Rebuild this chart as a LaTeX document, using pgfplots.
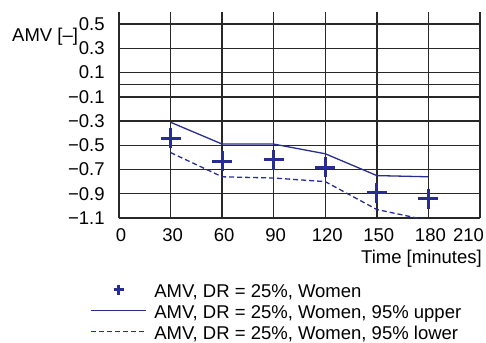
\documentclass[border=0pt]{standalone}
\usepackage{pgfplots}
\pgfplotsset{compat=1.18}
\usepackage{fontspec}
\setmainfont{Liberation Sans}
\definecolor{navy}{RGB}{40,45,145}
\definecolor{gridc}{RGB}{40,40,40}
\begin{document}
\fontsize{18.5bp}{20bp}\selectfont
\begin{tikzpicture}
\useasboundingbox (0,0) rectangle (486bp,343bp);
\begin{axis}[
  at={(119bp,125bp)}, anchor=south west,
  scale only axis, width=361bp, height=206bp,
  xmin=0, xmax=210, ymin=-1.1, ymax=0.6,
  axis line style={draw=none},
  xtick={0,30,60,90,120,150,180,210},
  ytick={-1.1,-0.9,-0.7,-0.5,-0.3,-0.1,0.1,0.3,0.5},
  yticklabels={−1.1,−0.9,−0.7,−0.5,−0.3,−0.1,0.1,0.3,0.5},
  xticklabels={0,30,60,90,120,150,180,\makebox[4bp][r]{210}},
  extra y ticks={0}, extra y tick labels={},
  extra tick style={grid=major},
  grid=major,
  major grid style={gridc, line width=1.4bp},
  major tick length=0pt,
  tick label style={font=\fontsize{18.5bp}{20bp}\selectfont},
  yticklabel style={xshift=-8bp},
  xticklabel style={yshift=-4bp, xshift=2bp},
  xlabel={Time [minutes]},
  every axis x label/.style={at={(axis description cs:1,0)}, anchor=base east, xshift=2bp, yshift=-45bp, inner sep=0pt},
  ylabel={AMV [–]},
  every axis y label/.style={at={(axis description cs:0,1)}, anchor=base west, xshift=-107bp, yshift=-30bp, inner sep=0pt},
  legend style={at={(axis description cs:0,0)}, anchor=north west, xshift=-29bp, yshift=-65bp,
    draw=none, fill=none, inner sep=0pt, outer sep=0pt, row sep=0pt,
    font=\fontsize{18.5bp}{20bp}\selectfont,
    nodes={inner sep=0pt, text height=14bp, text depth=7bp},
    /tikz/column sep=8bp},
  legend cell align=left,
]
\addplot[navy, line width=1.3bp, forget plot] coordinates {(30,-0.31) (60,-0.49) (90,-0.49) (120,-0.57) (150,-0.75) (180,-0.76)};
\addplot[navy, line width=1.3bp, dash pattern=on 5bp off 3bp, forget plot] coordinates {(30,-0.56) (60,-0.76) (90,-0.77) (120,-0.80) (150,-1.03) (180,-1.12)};
\addplot[navy, only marks, mark=+, mark size=10bp, mark options={line width=3bp}, forget plot] coordinates {(30,-0.44) (60,-0.63) (90,-0.62) (120,-0.68) (150,-0.89) (180,-0.94)};
\addlegendimage{legend image code/.code={\path[draw=none] (0bp,2bp) -- (55bp,2bp); \draw[navy, line width=2.8bp] plot[mark=+, mark size=5bp, mark options={line width=2.8bp}] coordinates {(28bp,4bp)};}}
\addlegendentry{AMV, DR = 25\%, Women}
\addlegendimage{legend image code/.code={\draw[navy, line width=1.3bp] (0bp,4bp) -- (55bp,4bp);}}
\addlegendentry{AMV, DR = 25\%, Women, 95\% upper}
\addlegendimage{legend image code/.code={\draw[navy, line width=1.3bp, dash pattern=on 5bp off 3bp] (0bp,4bp) -- (55bp,4bp);}}
\addlegendentry{AMV, DR = 25\%, Women, 95\% lower}
\end{axis}
\end{tikzpicture}
\end{document}
